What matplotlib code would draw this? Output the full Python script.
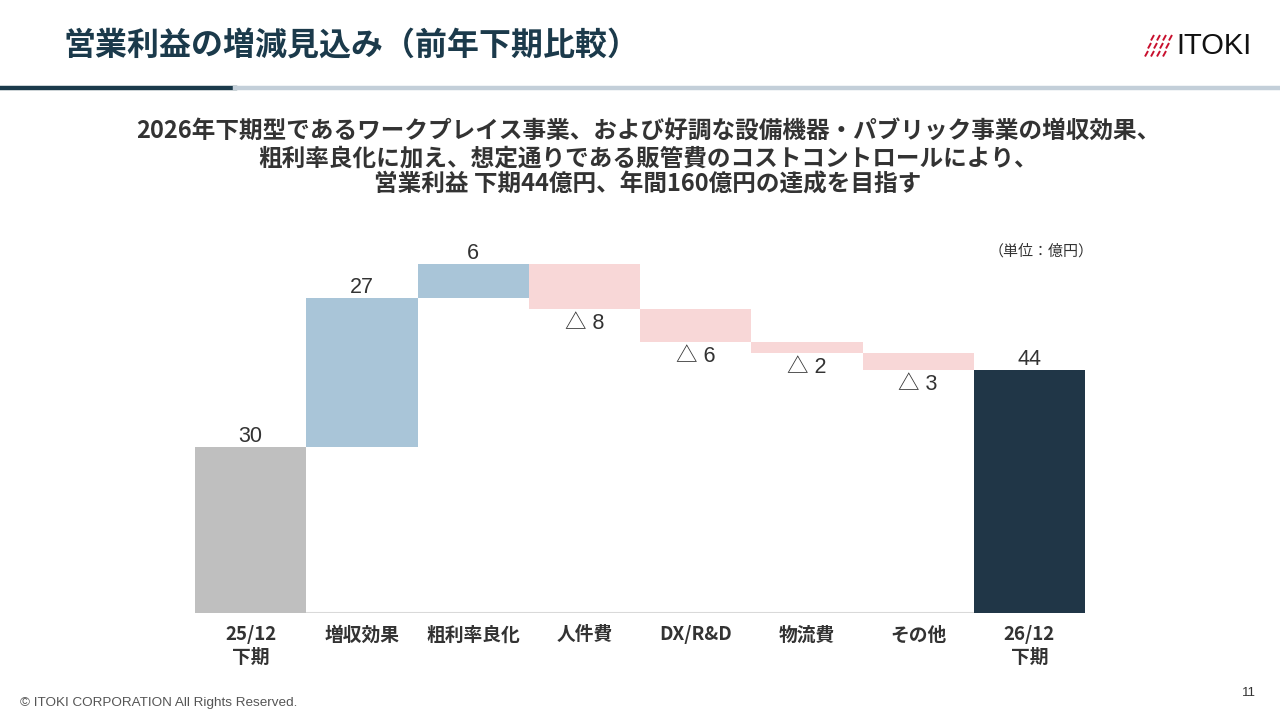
import matplotlib
matplotlib.use("Agg")
import matplotlib.pyplot as plt
from matplotlib.lines import Line2D

plt.rcParams['font.family'] = ['Noto Sans CJK JP', 'DejaVu Sans']

categories = ["25/12\n下期", "増収効果", "粗利率良化", "人件費", "DX/R&D", "物流費", "その他", "26/12\n下期"]
values = [30, 27, 6, -8, -6, -2, -3, 44]
kinds = ["total", "up", "up", "down", "down", "down", "down", "total"]

colors = {"up": "#A9C5D8", "down": "#F8D7D7"}
total_colors = ["#BFBFBF", "#203647"]

W, H = 1280, 720
fig = plt.figure(figsize=(12.8, 7.2), dpi=100)

def fx(x):
    return x / W
def fy(y):
    return 1 - y / H

# Header
fig.text(fx(64), fy(46), "営業利益の増減見込み（前年下期比較）", fontsize=23, fontweight="bold",
         color="#1B3A4B", va="center", ha="left")
fig.add_artist(Line2D([0, fx(235)], [fy(88), fy(88)], color="#1B3A4B", lw=3.2, transform=fig.transFigure))
fig.add_artist(Line2D([fx(235), 1], [fy(88), fy(88)], color="#C3CFD9", lw=3.2, transform=fig.transFigure))

# Logo
for r in range(3):
    for c in range(4):
        x0 = 1146 + c * 6 - r * 3 + 5
        y0 = 35 + r * 8
        fig.add_artist(Line2D([fx(x0), fx(x0 + 3.0)], [fy(y0 + 5.5), fy(y0)], color="#C8102E", lw=1.4,
                              transform=fig.transFigure, solid_capstyle="butt"))
fig.text(fx(1176), fy(46), "ITOKI", fontsize=21, color="#111111", va="center", ha="left",
         family=["Liberation Sans Narrow", "Liberation Sans", "DejaVu Sans"])

# Subtitle
sub = ("2026年下期型であるワークプレイス事業、および好調な設備機器・パブリック事業の増収効果、\n"
       "粗利率良化に加え、想定通りである販管費のコストコントロールにより、\n"
       "営業利益 下期44億円、年間160億円の達成を目指す")
fig.text(fx(648), fy(158), sub, fontsize=17, fontweight="bold", color="#333333",
         ha="center", va="center", linespacing=1.15)

# Unit
fig.text(fx(1094), fy(251), "（単位：億円）", fontsize=10.8, color="#333333", ha="right", va="center")

# Chart axes
ax_left, ax_right, ax_bottom = 195, 1085, 613
ymax = 70
px_per_unit = 166 / 30
ax_top = ax_bottom - ymax * px_per_unit
ax = fig.add_axes([fx(ax_left), fy(ax_bottom), fx(ax_right - ax_left), (ax_bottom - ax_top) / H])
ax.set_xlim(-0.5, len(values) - 0.5)
ax.set_ylim(0, ymax)
for s in ax.spines.values():
    s.set_visible(False)
ax.axhline(0, color="#D9D9D9", lw=1.5, zorder=1)
ax.set_yticks([])
ax.set_xticks(range(len(categories)))
ax.set_xticklabels(categories, fontsize=13.5, fontweight="bold", color="#333333", linespacing=1.2, va="top")
ax.tick_params(axis="x", length=0, pad=9)

num_font = ["Liberation Sans", "Noto Sans CJK JP"]
lab_kw = dict(fontsize=15.5, color="#333333", family=num_font, ha="center", clip_on=False)
running = 0
ti = 0
for i, (v, k) in enumerate(zip(values, kinds)):
    if k == "total":
        col = total_colors[ti]
        ti += 1
        ax.bar(i, v, bottom=0, width=1.0, color=col, zorder=2)
        running = v
        ax.annotate(f"{v}", (i, v), xytext=(0, 0), textcoords="offset points", va="bottom", **lab_kw)
    elif k == "up":
        ax.bar(i, v, bottom=running, width=1.0, color=colors[k], zorder=2)
        running += v
        ax.annotate(f"{v}", (i, running), xytext=(0, 0), textcoords="offset points", va="bottom", **lab_kw)
    else:
        ax.bar(i, v, bottom=running, width=1.0, color=colors[k], zorder=2)
        running += v
        ax.annotate(f"△ {abs(v)}", (i, running), xytext=(0, -3), textcoords="offset points", va="top", **lab_kw)

# Footer
fig.text(fx(20), fy(703), "© ITOKI CORPORATION All Rights Reserved.", fontsize=9.7, color="#555555",
         ha="left", va="center", family=["Liberation Sans", "DejaVu Sans"])
fig.text(fx(1256), fy(693), "11", fontsize=9.5, color="#333333", ha="right", va="center",
         family=["Liberation Sans", "DejaVu Sans"])

fig.savefig("out.png", dpi=100)
